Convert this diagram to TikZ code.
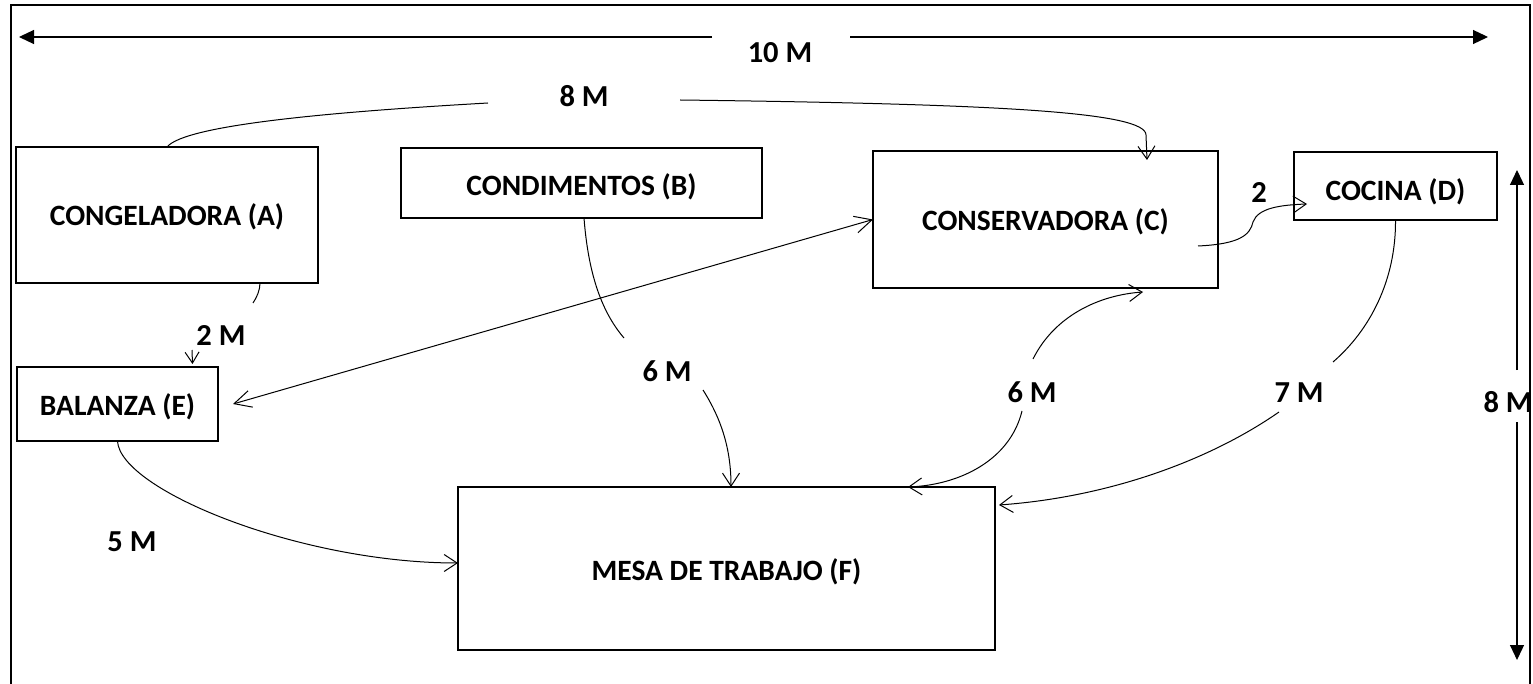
\documentclass[tikz,border=0pt]{standalone}
\usepackage{fontspec}
\setmainfont{Carlito}
\usetikzlibrary{arrows.meta,calc}
\begin{document}
\begin{tikzpicture}[x=1pt,y=-1pt,
  box/.style={draw,line width=2.6pt,outer sep=0pt,inner sep=0pt,font=\bfseries\fontsize{29.5}{32}\selectfont,text depth=0pt},
  tdown/.style={text height=18.6pt+2*#1},
  lbl/.style={font=\bfseries\fontsize{30.5}{33}\selectfont,inner sep=0pt},
  conn/.style={line width=1pt},
  barb/.style={conn,-{Straight Barb[length=13pt,width=17pt]}},
  dbarb/.style={conn,{Straight Barb[length=17pt,width=17pt]}-{Straight Barb[length=17pt,width=17pt]}},
  dim/.style={line width=1.2pt,-{Triangle[length=15pt,width=14pt]}}
]
\useasboundingbox (0,0) rectangle (1533,684);
% frame
\draw[line width=1.5pt] (11,684) -- (11,5) -- (1530,5) -- (1530,684);

% boxes
\node[box,tdown=1pt,minimum width=302pt,minimum height=136pt] (A) at (167,215) {CONGELADORA (A)};
\node[box,tdown=3pt,minimum width=361pt,minimum height=70pt] (B) at (581.5,183) {CONDIMENTOS (B)};
\node[box,tdown=1.5pt,minimum width=345pt,minimum height=137pt] (C) at (1045.5,219.5) {CONSERVADORA (C)};
\node[box,tdown=5pt,minimum width=203pt,minimum height=68pt] (D) at (1395.5,186) {COCINA (D)};
\node[box,tdown=2pt,minimum width=201pt,minimum height=74pt] (E) at (117.5,404) {BALANZA (E)};
\node[box,tdown=2.5pt,minimum width=537pt,minimum height=163pt] (F) at (726.5,568.5) {MESA DE TRABAJO (F)};

% labels
\node[lbl] (l10) at (780,53) {10 M};
\node[lbl] (l8) at (584,96) {8 M};
\node[lbl] (l2M) at (221,335) {2 M};
\node[lbl] (l6B) at (667,371) {6 M};
\node[lbl] (l6C) at (1032,392) {6 M};
\node[lbl] (l7) at (1299,393) {7 M};
\node[lbl] (l2) at (1259,193) {2};
\node[lbl] (l5) at (132,542) {5 M};
\node[lbl] (l8v) at (1508,402) {8 M};

% free ends
\coordinate (d1) at (712,37); \coordinate (d1e) at (19,37);
\coordinate (d2) at (850,37); \coordinate (d2e) at (1488,37);
\coordinate (v1) at (1517,370); \coordinate (v1e) at (1517,170);
\coordinate (v2) at (1517,422); \coordinate (v2e) at (1517,660);
\coordinate (p8a) at (488,103); \coordinate (p8b) at (680,100);
\coordinate (p2a) at (253,303); \coordinate (p2b) at (192,350);
\coordinate (p6a) at (624,338); \coordinate (p6b) at (703,390);
\coordinate (q6a) at (1033,359); \coordinate (q6b) at (1022,411);
\coordinate (p7a) at (1333,362); \coordinate (p7b) at (1279,412);

% dimension arrows
\draw[dim] (d1) -- (d1e);
\draw[dim] (d2) -- (d2e);
\draw[dim] (v1) -- (v1e);
\draw[dim] (v2) -- (v2e);

% A -> C (8 M)
\draw[conn] (A.north) .. controls (185,125) and (330,112) .. (p8a);
\draw[barb] (p8b) .. controls (1000,104) and (1146,112) .. (1146,135) -- ([xshift=-71pt,yshift=-9pt]C.north east);
% A -> E (2 M)
\draw[conn] ([xshift=-58pt]A.south east) .. controls (260,290) and (257,297) .. (p2a);
\draw[conn,-{Straight Barb[length=11pt,width=14pt]}] (p2b) -- ([xshift=75pt,yshift=3pt]E.north);
% E <-> C
\draw[dbarb] ([xshift=15pt]E.east) -- (C.west);
% B -> F (6 M)
\draw[conn] ([xshift=2.5pt]B.south) .. controls (588,270) and (600,310) .. (p6a);
\draw[barb] (p6b) .. controls (722,420) and (731,450) .. ([xshift=4.5pt]F.north);
% C <-> F (6 M)
\draw[barb] (q6a) .. controls (1055,315) and (1100,295) .. ([xshift=-75pt,yshift=-4pt]C.south east);
\draw[barb] (q6b) .. controls (1010,460) and (960,485) .. ([xshift=-87pt]F.north east);
% C -> D (2)
\draw[barb] ([xshift=-20pt,yshift=-26.5pt]C.east) .. controls (1240,244) and (1250,235) .. (1253,222) .. controls (1258,208) and (1280,205) .. ([xshift=13pt,yshift=-18pt]D.west);
% D -> F (7 M)
\draw[conn] (D.south) .. controls (1396,280) and (1370,330) .. (p7a);
\draw[barb] (p7b) .. controls (1210,460) and (1110,497) .. ([xshift=4pt,yshift=-18pt]F.north east);
% E -> F (5 M)
\draw[barb] (E.south) .. controls (120,490) and (300,563) .. ([yshift=5.5pt]F.west);
\end{tikzpicture}
\end{document}
